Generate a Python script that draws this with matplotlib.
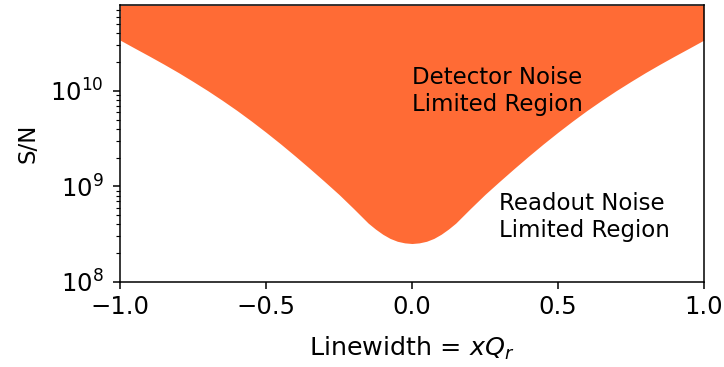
import matplotlib
matplotlib.use("Agg")
import matplotlib.pyplot as plt

linewidth = [-1.0, -0.95, -0.9, -0.85, -0.8, -0.75, -0.7, -0.65, -0.6, -0.55, -0.5,
             -0.45, -0.4, -0.35, -0.3, -0.25, -0.2, -0.15, -0.125, -0.1, -0.075, -0.05, -0.025, 0.0,
             0.025, 0.05, 0.075, 0.1, 0.125, 0.15, 0.2, 0.25, 0.3, 0.35, 0.4, 0.45, 0.5,
             0.55, 0.6, 0.65, 0.7, 0.75, 0.8, 0.85, 0.9, 0.95, 1.0]
snr_limit = [3.396e10, 2.799e10, 2.312e10, 1.901e10, 1.552e10, 1.253e10, 1.005e10, 7.96e9, 6.24e9, 4.82e9, 3.68e9,
             2.78e9, 2.075e9, 1.535e9, 1.127e9, 8.22e8, 5.85e8, 4.12e8, 3.57e8, 3.15e8, 2.85e8, 2.66e8, 2.56e8, 2.52e8,
             2.56e8, 2.66e8, 2.85e8, 3.15e8, 3.57e8, 4.12e8, 5.85e8, 8.22e8, 1.127e9, 1.535e9, 2.075e9, 2.78e9, 3.68e9,
             4.82e9, 6.24e9, 7.96e9, 1.005e10, 1.253e10, 1.552e10, 1.901e10, 2.312e10, 2.799e10, 3.396e10]
y_top = 7.9e10
y_bottom = 1e8

fs = 16.5
sc = 1.375
plt.rcParams.update({
    "axes.linewidth": 0.8 * sc,
    "xtick.major.size": 3.5 * sc, "ytick.major.size": 3.5 * sc,
    "xtick.minor.size": 2.0 * sc, "ytick.minor.size": 2.0 * sc,
    "xtick.major.width": 0.8 * sc, "ytick.major.width": 0.8 * sc,
    "xtick.minor.width": 0.6 * sc, "ytick.minor.width": 0.6 * sc,
    "xtick.major.pad": 3.5 * sc, "ytick.major.pad": 7.0,
})

fig = plt.figure(figsize=(7.24, 3.67), dpi=100)
ax = fig.add_axes([0.166, 0.232, 0.806, 0.754])
ax.fill_between(linewidth, snr_limit, y_top, color="#FF6B35", linewidth=0)
ax.set_yscale("log")
ax.set_xlim(-1, 1)
ax.set_ylim(y_bottom, y_top)
ax.set_xticks([-1.0, -0.5, 0.0, 0.5, 1.0])
ax.tick_params(which="both", labelsize=17.5)
ax.set_xlabel("Linewidth = $xQ_r$", fontsize=18.3, labelpad=11.5)
ax.set_ylabel("S/N", fontsize=fs, labelpad=7.5)
ax.text(0.0, 1e10, "Detector Noise\nLimited Region", fontsize=fs, ha="left", va="center")
ax.text(0.3, 4.8e8, "Readout Noise\nLimited Region", fontsize=fs, ha="left", va="center")
fig.savefig("out.png", dpi=100)
